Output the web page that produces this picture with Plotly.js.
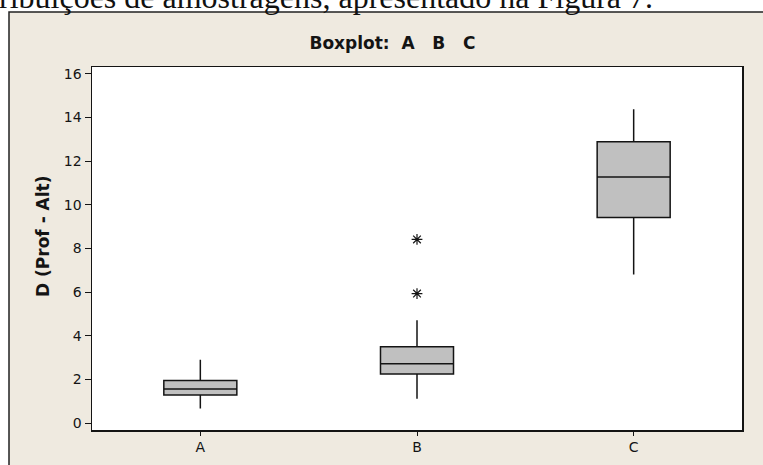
<!DOCTYPE html>
<html><head><meta charset="utf-8">
<script src="https://cdn.plot.ly/plotly-3.0.1.min.js"></script>
<style>html,body{margin:0;padding:0;background:#fff;}#chart{width:763px;height:465px;}</style>
</head><body><div id="chart"></div>
<script>
// Data
const categories = ['A', 'B', 'C'];
const lowerWhisker = [0.66, 1.11, 6.80];
const q1Values = [1.28, 2.25, 9.42];
const medians = [1.56, 2.72, 11.27];
const q3Values = [1.95, 3.49, 12.89];
const upperWhisker = [2.90, 4.71, 14.37];
const outlierCats = ['B', 'B'];
const outlierValues = [5.93, 8.41];
const yTicks = [0, 2, 4, 6, 8, 10, 12, 14, 16];
const chartTitle = 'Boxplot:\u00a0\u00a0A\u00a0\u00a0\u00a0B\u00a0\u00a0\u00a0C';
const yTitle = 'D (Prof - Alt)';
const headerText = 'ribuições de amostragens, apresentado na Figura 7.';

const W = 763, H = 465;
const mL = 92, mR = 21, mT = 67, mB = 35;
const pw = W - mL - mR, ph = H - mT - mB;
const px2x = p => (p - mL) / pw;
const py2y = p => (H - mB - p) / ph;

const ink = '#141414';
const fontFam = 'DejaVu Sans, Verdana, sans-serif';

const boxTrace = {
  type: 'box',
  x: categories,
  q1: q1Values,
  median: medians,
  q3: q3Values,
  lowerfence: lowerWhisker,
  upperfence: upperWhisker,
  fillcolor: '#C0C0C0',
  line: {color: ink, width: 1.5},
  whiskerwidth: 0,
  width: 0.337,
  boxpoints: false,
  hoverinfo: 'skip',
  showlegend: false
};

const outlierTrace = {
  type: 'scatter',
  mode: 'markers',
  x: outlierCats,
  y: outlierValues,
  marker: {symbol: 'asterisk-open', size: 9, color: ink, line: {color: ink, width: 1.2}},
  hoverinfo: 'skip',
  showlegend: false
};

const layout = {
  width: W, height: H,
  margin: {l: mL, r: mR, t: mT, b: mB, pad: 0},
  paper_bgcolor: '#ffffff',
  plot_bgcolor: 'rgba(0,0,0,0)',
  showlegend: false,
  title: {
    text: '<b>' + chartTitle + '</b>',
    font: {family: fontFam, size: 17, color: ink},
    x: 392.5 / W, xref: 'container', xanchor: 'center',
    y: 1 - 43 / H, yref: 'container', yanchor: 'middle'
  },
  xaxis: {
    type: 'category',
    range: [-0.5, 2.5],
    showline: true, linecolor: ink, linewidth: 1.5, mirror: true,
    ticks: 'outside', ticklen: 4, tickwidth: 1, tickcolor: ink,
    tickfont: {family: fontFam, size: 14, color: ink},
    showgrid: false, zeroline: false, fixedrange: true
  },
  yaxis: {
    range: [-0.32, 16.31],
    tickmode: 'array', tickvals: yTicks, ticktext: yTicks.map(String),
    showline: true, linecolor: ink, linewidth: 1.5, mirror: true,
    ticks: 'outside', ticklen: 6, tickwidth: 1, tickcolor: ink,
    tickfont: {family: fontFam, size: 14, color: ink},
    showgrid: false, zeroline: false, fixedrange: true
  },
  shapes: [
    {type: 'rect', xref: 'paper', yref: 'paper', layer: 'below',
     x0: px2x(9), x1: px2x(800), y0: py2y(520), y1: py2y(12),
     fillcolor: '#EFEAE0', line: {color: '#222', width: 1.5}},
    {type: 'rect', xref: 'paper', yref: 'paper', layer: 'below',
     x0: 0, x1: 1, y0: 0, y1: 1,
     fillcolor: '#ffffff', line: {width: 0}}
  ],
  annotations: [
    {text: '<b>' + yTitle + '</b>', textangle: -90, showarrow: false,
     xref: 'paper', yref: 'paper', x: px2x(43), y: py2y(236),
     xanchor: 'center', yanchor: 'middle',
     font: {family: fontFam, size: 17, color: ink}},
    {text: headerText, showarrow: false,
     xref: 'paper', yref: 'paper', x: px2x(655), y: py2y(-3),
     xanchor: 'right', yanchor: 'middle',
     font: {family: 'Liberation Serif, Times New Roman, serif', size: 32, color: '#111'}}
  ]
};

Plotly.newPlot('chart', [boxTrace, outlierTrace], layout, {staticPlot: true, displayModeBar: false});
</script>
</body></html>
